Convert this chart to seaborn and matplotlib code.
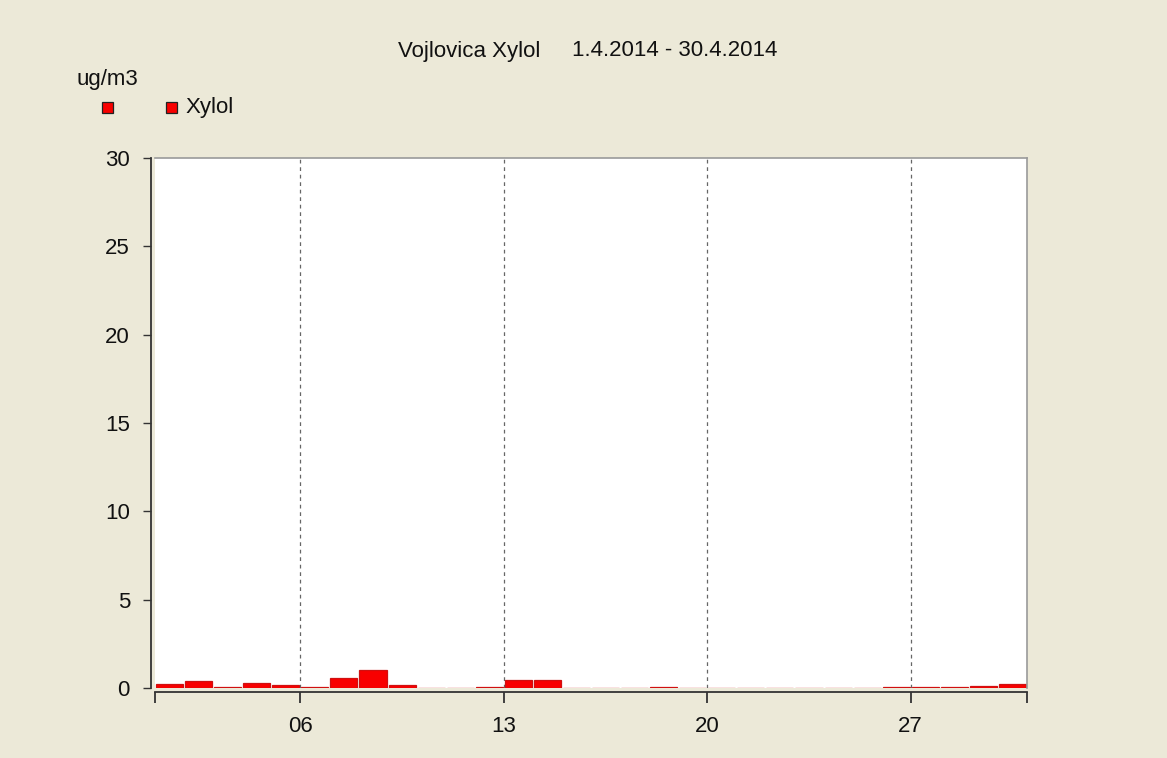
import matplotlib
matplotlib.use("Agg")
import matplotlib.pyplot as plt
from matplotlib.patches import Rectangle
import seaborn as sns
import pandas as pd

days = list(range(1, 31))
xylol = [0.22, 0.4, 0.07, 0.3, 0.15, 0.07, 0.55, 1.0, 0.15, 0.0,
         0.0, 0.07, 0.45, 0.45, 0.0, 0.0, 0.0, 0.07, 0.0, 0.0,
         0.0, 0.0, 0.0, 0.0, 0.0, 0.07, 0.07, 0.07, 0.12, 0.22]
tick_days = [6, 13, 20, 27]
tick_labels = ["06", "13", "20", "27"]
yticks = [0, 5, 10, 15, 20, 25, 30]

bg = "#ECE9D8"
sns.set_theme(style="white")
plt.rcParams["font.family"] = ["Liberation Sans", "DejaVu Sans"]
W, H = 1167, 758

fig = plt.figure(figsize=(11.67, 7.58), dpi=100, facecolor=bg)
ax = fig.add_axes([155/W, 1-688/H, (1027-155)/W, (688-158)/H])
ax.set_facecolor("white")

df = pd.DataFrame({"day": days, "val": xylol})
sns.barplot(data=df, x="day", y="val", native_scale=True, color="#F80000",
            saturation=1, width=0.93, edgecolor="#D01010", linewidth=0.9, ax=ax)

ax.set_xlim(0.5, 30.5)
ax.set_ylim(0, 30)
ax.set_xlabel("")
ax.set_ylabel("")

ax.set_xticks([d - 0.5 for d in tick_days])
ax.set_xticklabels(tick_labels)
ax.set_xticks([0.5, 30.5], minor=True)
ax.set_yticks(yticks)
ax.set_yticklabels([str(v) for v in yticks])
ax.tick_params(axis="x", which="both", direction="out", length=8, width=1.3,
               color="#333333", bottom=True, pad=9, labelsize=16, labelcolor="#111111")
ax.tick_params(axis="y", direction="out", length=6, width=1, color="#333333",
               left=True, pad=9, labelsize=16, labelcolor="#111111")

for d in tick_days:
    ax.axvline(d - 0.5, color="#666666", linestyle=(0, (3, 3)), linewidth=0.9, zorder=0)

for s in ["left", "bottom"]:
    ax.spines[s].set_position(("outward", 3))
    ax.spines[s].set_color("#333333")
    ax.spines[s].set_linewidth(1.3)
for s in ["top", "right"]:
    ax.spines[s].set_color("#9a9a9a")
    ax.spines[s].set_linewidth(1.2)

fig.text(398/W, 1-51/H, "Vojlovica Xylol", ha="left", va="center", fontsize=16, color="#111111")
fig.text(572/W, 1-51/H, "1.4.2014 - 30.4.2014", ha="left", va="center", fontsize=16, color="#111111")
fig.text(77/W, 1-80/H, "ug/m3", ha="left", va="center", fontsize=16, color="#111111")
for cx in [107.5, 171.5]:
    fig.add_artist(Rectangle(((cx-5.5)/W, 1-(107.5+5.5)/H), 11/W, 11/H,
                             transform=fig.transFigure, facecolor="#F80000",
                             edgecolor="#222222", linewidth=0.9))
fig.text(186/W, 1-108/H, "Xylol", ha="left", va="center", fontsize=16, color="#111111")

fig.savefig("out.png", dpi=100, facecolor=bg)
